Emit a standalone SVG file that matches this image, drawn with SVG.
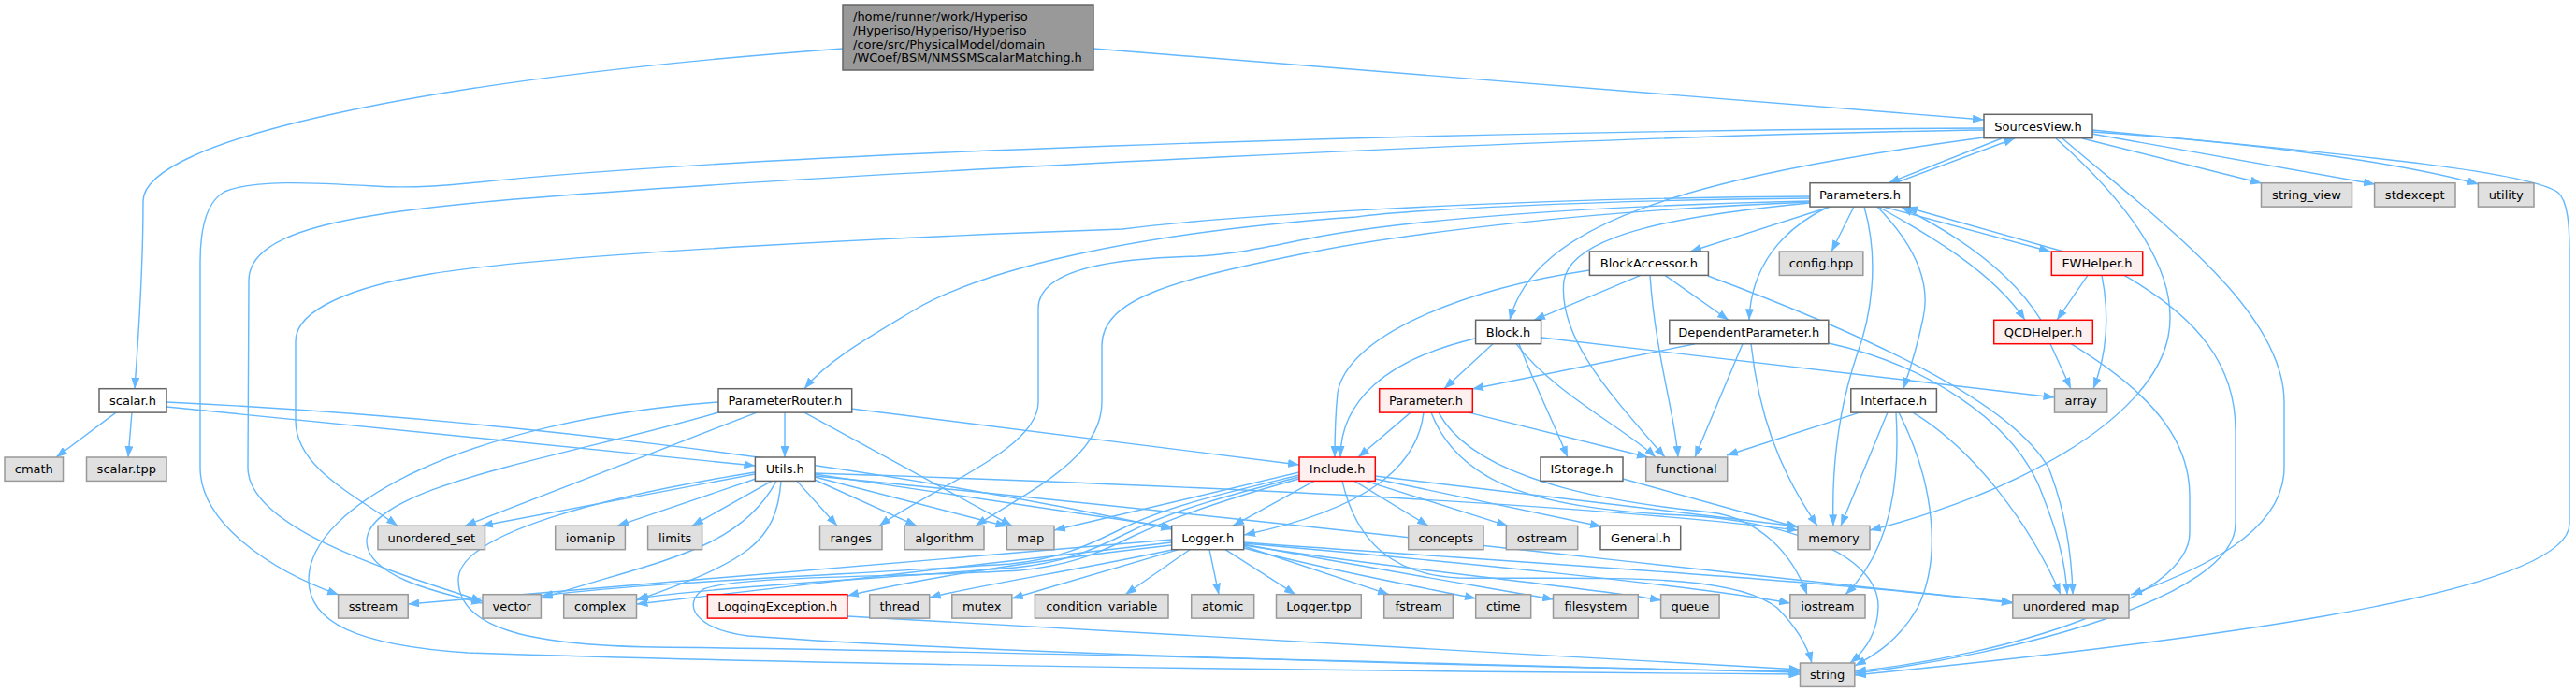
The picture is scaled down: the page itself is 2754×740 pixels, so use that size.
<svg xmlns="http://www.w3.org/2000/svg" width="2754" height="740" viewBox="0 0 2754 740">
<style>
text{font-family:"DejaVu Sans","Liberation Sans",sans-serif;font-size:13px;fill:#000;text-anchor:middle}
.e path{fill:none;stroke:#63b8ff;stroke-width:1.4;marker-end:url(#a)}
.w{fill:#fff;stroke:#666;stroke-width:1.5}
.g{fill:#e0e0e0;stroke:#999;stroke-width:1.5}
.r{fill:#fff0f0;stroke:#f00;stroke-width:1.5}
.m{fill:#999;stroke:#666;stroke-width:1.5}
</style>
<defs>
<marker id="a" markerWidth="12" markerHeight="9" refX="12" refY="4.5" orient="auto" markerUnits="userSpaceOnUse" viewBox="0 0 12 9"><path d="M0,0 L12,4.5 L0,9 z" fill="#63b8ff"/></marker>
</defs>
<rect width="2754" height="740" fill="#fff"/>
<g id="edges" class="e">
<path d="M901,52 C450,85 153,150 153,215 C153,300 147,370 144,415.7"/>
<path d="M1169,52 L2121,128"/>
<path d="M2140,148 L2019,195.7"/>
<path d="M2026,195.7 L2154,148"/>
<path d="M2121,147 C1800,190 1640,240 1614,342.3"/>
<path d="M2121,137 C1500,140 800,165 500,196 C460,200 430,201 400,199 C330,195 270,192 240,205 C222,215 214,240 214,280 L214,500 C214,560 290,610 362,636"/>
<path d="M2121,139 C1700,145 900,185 550,213 C380,228 266,245 266,300 L265,500 C265,565 420,612 516,643"/>
<path d="M2198,148 C2290,230 2330,300 2318,360 C2300,450 2150,530 1999,567"/>
<path d="M2205,148 C2300,230 2442,330 2442,430 L2442,500 C2442,570 2350,610 2278,636"/>
<path d="M2237,139 C2450,160 2700,180 2735,206 C2745,215 2747,240 2747,270 L2747,560 C2747,640 2300,690 1983,722"/>
<path d="M2226,148 L2418,196"/>
<path d="M2236,143 L2539,197"/>
<path d="M2237,141 C2400,152 2560,172 2650,197"/>
<path d="M2013,221 L2192,269"/>
<path d="M2206,269 L2038,221.5"/>
<path d="M2182,342.3 C2150,290 2090,250 2033,221.5"/>
<path d="M2008,221 C2060,250 2130,290 2165,342.3"/>
<path d="M1957,221 L1807,269"/>
<path d="M1982,221 L1958,269"/>
<path d="M1955,221 C1905,245 1872,285 1870,342.3"/>
<path d="M1993,221 C2010,280 2000,340 1985,380 C1965,440 1958,500 1960,562.3"/>
<path d="M2007,221 C2045,260 2065,300 2056,340 C2050,370 2042,395 2035,415.7"/>
<path d="M1935,212 C1700,214 1500,225 1450,232 C1200,250 1050,290 980,330 C930,360 885,385 860,415.7"/>
<path d="M1935,210 C1600,212 1300,232 1200,245 C1000,252 600,270 460,293 C380,306 316,330 316,365 L316,450 C316,500 380,530 425,562.3"/>
<path d="M1935,215 C1700,220 1500,235 1400,255 C1350,265 1320,272 1280,274 C1200,276 1110,285 1110,330 L1110,430 C1110,480 1000,520 940,562.3"/>
<path d="M1935,216 C1700,225 1500,250 1400,270 C1250,300 1178,320 1178,370 L1178,430 C1178,490 1100,525 1043,562.3"/>
<path d="M1935,217 C1800,230 1680,250 1672,300 C1665,360 1720,420 1780,489"/>
<path d="M1754,294.4 L1640,342.3"/>
<path d="M1780,294.4 L1848,342.3"/>
<path d="M1699,289 C1560,310 1440,360 1430,420 C1427,450 1427,470 1427,489"/>
<path d="M1764,294.4 C1770,380 1790,440 1794,489"/>
<path d="M1826,295 C2000,360 2150,430 2190,500 C2210,550 2215,600 2216,635.7"/>
<path d="M1596,367.7 L1544,415.7"/>
<path d="M1577,362 C1480,385 1433,430 1433,489"/>
<path d="M1624,367.7 C1640,410 1660,450 1676,489"/>
<path d="M1621,367.7 C1660,420 1740,460 1770,489"/>
<path d="M1648,361 L2196.5,425"/>
<path d="M1812,367.7 L1574,416"/>
<path d="M1863,367.7 L1812,489"/>
<path d="M1872,367.7 C1880,440 1900,500 1943,562.3"/>
<path d="M1955,367 C2060,390 2150,450 2180,520 C2200,570 2208,600 2210,635.7"/>
<path d="M1988,441.1 L1846,487"/>
<path d="M2018,441.1 L1968,562.3"/>
<path d="M2027,441.1 C2032,520 2020,590 1973,635.7"/>
<path d="M2030,441.1 C2070,520 2075,600 2050,650 C2030,685 2005,700 1983,712"/>
<path d="M2045,441.1 C2110,480 2170,560 2203,635.7"/>
<path d="M2232,294.4 L2199,342.3"/>
<path d="M2247,294.4 C2256,340 2252,380 2238,415.7"/>
<path d="M2271,294.4 C2350,340 2390,390 2390,460 L2390,560 C2390,640 2150,700 1983,720"/>
<path d="M2192,367.7 L2214,415.7"/>
<path d="M2214,367.7 C2300,420 2341,470 2341,530 L2341,570 C2341,640 2150,700 1983,718"/>
<path d="M910,437 L1389,497"/>
<path d="M839,441.1 L839,489"/>
<path d="M809,441.1 L497,562.3"/>
<path d="M768,441 C600,490 390,520 392,580 C394,615 460,632 516,645"/>
<path d="M768,430 C500,450 330,540 330,620 C330,665 380,690 500,698 C900,712 1500,718 1924.5,721"/>
<path d="M860,441.1 L1082,562.3"/>
<path d="M807,507 L515,562.3"/>
<path d="M808,512 L660,562.3"/>
<path d="M825,514.4 L740,562.3"/>
<path d="M852,514.4 L895,562.3"/>
<path d="M871,513 L980,562.3"/>
<path d="M871,510 L1076.4,563"/>
<path d="M871,507 L1254,564"/>
<path d="M830,514.4 C790,590 700,600 578,640"/>
<path d="M835,514.4 C830,580 800,600 680,642"/>
<path d="M807,505 C650,530 490,570 490,620 C490,670 560,690 700,692 C1100,696 1600,712 1924.5,719"/>
<path d="M871,506 C1300,520 1700,540 1922,567"/>
<path d="M871,509 C1400,560 1900,620 2151.8,644"/>
<path d="M124,441.1 L60,489"/>
<path d="M141,441.1 L137,489"/>
<path d="M178,435 L807.4,498"/>
<path d="M178,430 C500,445 900,490 1253,566"/>
<path d="M1405,514.4 L1318,562.3"/>
<path d="M1389,505 L1127,567"/>
<path d="M1389,508 C1320,525 1250,540 1200,565 C1160,585 1130,598 1080,603 C900,615 700,622 579,637"/>
<path d="M1389,510 C1320,528 1255,545 1205,570 C1165,590 1135,602 1085,607 C950,618 760,628 681,640"/>
<path d="M1448,514.4 L1527,562.3"/>
<path d="M1460,514.4 L1612,562.3"/>
<path d="M1470,512 L1712,563"/>
<path d="M1470,509 C1650,530 1800,548 1922,563"/>
<path d="M1435,514.4 C1450,580 1490,615 1560,618 C1700,620 1850,610 1900,650 C1920,670 1932,690 1937,709"/>
<path d="M1508,441.1 L1452,489"/>
<path d="M1522,441.1 C1515,500 1460,545 1330,572"/>
<path d="M1570,441.1 L1762,489"/>
<path d="M1538,441.1 C1580,520 1750,540 1830,548 C1880,555 1915,590 1932,635.7"/>
<path d="M1530,441.1 C1560,520 1650,545 1800,551 C1900,556 2010,590 2008,650 C2007,675 1995,695 1978,709"/>
<path d="M1735,512 L1922,564"/>
<path d="M906,659 L1924.5,716"/>
<path d="M1252.7,577 L436.2,646"/>
<path d="M1252.7,580 L680.5,646"/>
<path d="M1252.7,583 C1100,600 980,620 906,637"/>
<path d="M1254,587.7 C1150,610 1050,625 993.7,639"/>
<path d="M1260,587.7 L1081.8,640"/>
<path d="M1272,587.7 L1203,635.7"/>
<path d="M1293,587.7 L1303,635.7"/>
<path d="M1310,587.7 L1385,635.7"/>
<path d="M1329.7,584 L1485,635.7"/>
<path d="M1329.7,586 C1420,610 1520,628 1578,640"/>
<path d="M1329.7,582 C1450,605 1600,630 1661,641"/>
<path d="M1329.7,583 C1500,610 1700,628 1776,642"/>
<path d="M1329.7,581 C1550,600 1800,625 1914,645"/>
<path d="M1329.7,580 C1600,600 1950,620 2151.8,645"/>
<path d="M1389,512 C1320,531 1260,550 1210,574 C1170,594 1140,605 1090,610 C950,618 790,615 752,630 C730,645 740,672 800,680 C1000,695 1500,712 1924.5,718"/>
</g>
<g id="n_main"><rect class="m" x="901" y="5" width="268" height="70"/><text x="912" y="21.5" style="text-anchor:start">/home/runner/work/Hyperiso</text><text x="912" y="36.5" style="text-anchor:start">/Hyperiso/Hyperiso/Hyperiso</text><text x="912" y="51.5" style="text-anchor:start">/core/src/PhysicalModel/domain</text><text x="912" y="66" style="text-anchor:start">/WCoef/BSM/NMSSMScalarMatching.h</text></g>
<g id="n_sourcesview"><rect class="w" x="2121" y="122.3" width="116" height="25.4"/><text x="2179" y="139.5">SourcesView.h</text></g>
<g id="n_scalar"><rect class="w" x="106" y="415.7" width="72" height="25.4"/><text x="142" y="432.9">scalar.h</text></g>
<g id="n_cmath"><rect class="g" x="5" y="489" width="62.5" height="25.4"/><text x="36.3" y="506.2">cmath</text></g>
<g id="n_scalartpp"><rect class="g" x="92.5" y="489" width="85.5" height="25.4"/><text x="135.3" y="506.2">scalar.tpp</text></g>
<g id="n_parameters"><rect class="w" x="1935" y="195.7" width="107" height="25.4"/><text x="1988.5" y="212.9">Parameters.h</text></g>
<g id="n_string_view"><rect class="g" x="2417.5" y="195.7" width="97" height="25.4"/><text x="2466" y="212.9">string_view</text></g>
<g id="n_stdexcept"><rect class="g" x="2538.6" y="195.7" width="86.4" height="25.4"/><text x="2581.8" y="212.9">stdexcept</text></g>
<g id="n_utility"><rect class="g" x="2649.4" y="195.7" width="59.6" height="25.4"/><text x="2679.2" y="212.9">utility</text></g>
<g id="n_blockaccessor"><rect class="w" x="1699.4" y="269" width="127" height="25.4"/><text x="1762.9" y="286.2">BlockAccessor.h</text></g>
<g id="n_config"><rect class="g" x="1902.3" y="269" width="89.5" height="25.4"/><text x="1947" y="286.2">config.hpp</text></g>
<g id="n_ewhelper"><rect class="r" x="2193.3" y="269" width="97.4" height="25.4"/><text x="2242" y="286.2">EWHelper.h</text></g>
<g id="n_block"><rect class="w" x="1577.6" y="342.3" width="70" height="25.4"/><text x="1612.6" y="359.5">Block.h</text></g>
<g id="n_dependentparameter"><rect class="w" x="1784.8" y="342.3" width="170" height="25.4"/><text x="1869.8" y="359.5">DependentParameter.h</text></g>
<g id="n_qcdhelper"><rect class="r" x="2131.7" y="342.3" width="105.6" height="25.4"/><text x="2184.5" y="359.5">QCDHelper.h</text></g>
<g id="n_parameterrouter"><rect class="w" x="768" y="415.7" width="142.7" height="25.4"/><text x="839.4" y="432.9">ParameterRouter.h</text></g>
<g id="n_parameter"><rect class="r" x="1474.7" y="415.7" width="99.6" height="25.4"/><text x="1524.5" y="432.9">Parameter.h</text></g>
<g id="n_interface"><rect class="w" x="1978.8" y="415.7" width="91.6" height="25.4"/><text x="2024.6" y="432.9">Interface.h</text></g>
<g id="n_array"><rect class="g" x="2196.5" y="415.7" width="56.2" height="25.4"/><text x="2224.6" y="432.9">array</text></g>
<g id="n_utils"><rect class="w" x="807.4" y="489" width="63.7" height="25.4"/><text x="839.3" y="506.2">Utils.h</text></g>
<g id="n_include"><rect class="r" x="1389" y="489" width="81.3" height="25.4"/><text x="1429.7" y="506.2">Include.h</text></g>
<g id="n_istorage"><rect class="w" x="1647" y="489" width="88" height="25.4"/><text x="1691" y="506.2">IStorage.h</text></g>
<g id="n_functional"><rect class="g" x="1759.7" y="489" width="87" height="25.4"/><text x="1803.2" y="506.2">functional</text></g>
<g id="n_unordered_set"><rect class="g" x="404" y="562.3" width="114.5" height="25.4"/><text x="461.3" y="579.5">unordered_set</text></g>
<g id="n_iomanip"><rect class="g" x="593.7" y="562.3" width="74.7" height="25.4"/><text x="631" y="579.5">iomanip</text></g>
<g id="n_limits"><rect class="g" x="692.6" y="562.3" width="58" height="25.4"/><text x="721.6" y="579.5">limits</text></g>
<g id="n_ranges"><rect class="g" x="876.5" y="562.3" width="66.5" height="25.4"/><text x="909.8" y="579.5">ranges</text></g>
<g id="n_algorithm"><rect class="g" x="967" y="562.3" width="85" height="25.4"/><text x="1009.5" y="579.5">algorithm</text></g>
<g id="n_map"><rect class="g" x="1076.4" y="562.3" width="50.6" height="25.4"/><text x="1101.7" y="579.5">map</text></g>
<g id="n_logger"><rect class="w" x="1252.7" y="562.3" width="77" height="25.4"/><text x="1291.2" y="579.5">Logger.h</text></g>
<g id="n_concepts"><rect class="g" x="1505.7" y="562.3" width="80.3" height="25.4"/><text x="1545.9" y="579.5">concepts</text></g>
<g id="n_ostream"><rect class="g" x="1610.3" y="562.3" width="76.4" height="25.4"/><text x="1648.5" y="579.5">ostream</text></g>
<g id="n_general"><rect class="w" x="1711" y="562.3" width="85.7" height="25.4"/><text x="1753.9" y="579.5">General.h</text></g>
<g id="n_memory"><rect class="g" x="1922" y="562.3" width="77" height="25.4"/><text x="1960.5" y="579.5">memory</text></g>
<g id="n_sstream"><rect class="g" x="361.6" y="635.7" width="74.6" height="25.4"/><text x="398.9" y="652.9">sstream</text></g>
<g id="n_vector"><rect class="g" x="516" y="635.7" width="62.4" height="25.4"/><text x="547.2" y="652.9">vector</text></g>
<g id="n_complex"><rect class="g" x="602.7" y="635.7" width="77.8" height="25.4"/><text x="641.6" y="652.9">complex</text></g>
<g id="n_loggingexception"><rect class="r" x="756.4" y="635.7" width="149.5" height="25.4"/><text x="831.2" y="652.9">LoggingException.h</text></g>
<g id="n_thread"><rect class="g" x="929.7" y="635.7" width="64" height="25.4"/><text x="961.7" y="652.9">thread</text></g>
<g id="n_mutex"><rect class="g" x="1017.8" y="635.7" width="64" height="25.4"/><text x="1049.8" y="652.9">mutex</text></g>
<g id="n_condition_variable"><rect class="g" x="1106.4" y="635.7" width="142.6" height="25.4"/><text x="1177.7" y="652.9">condition_variable</text></g>
<g id="n_atomic"><rect class="g" x="1273.7" y="635.7" width="67" height="25.4"/><text x="1307.2" y="652.9">atomic</text></g>
<g id="n_loggertpp"><rect class="g" x="1364.5" y="635.7" width="90.8" height="25.4"/><text x="1409.9" y="652.9">Logger.tpp</text></g>
<g id="n_fstream"><rect class="g" x="1479.7" y="635.7" width="73.6" height="25.4"/><text x="1516.5" y="652.9">fstream</text></g>
<g id="n_ctime"><rect class="g" x="1577.7" y="635.7" width="59" height="25.4"/><text x="1607.2" y="652.9">ctime</text></g>
<g id="n_filesystem"><rect class="g" x="1660.5" y="635.7" width="90.8" height="25.4"/><text x="1705.9" y="652.9">filesystem</text></g>
<g id="n_queue"><rect class="g" x="1775.6" y="635.7" width="62.5" height="25.4"/><text x="1806.9" y="652.9">queue</text></g>
<g id="n_iostream"><rect class="g" x="1913.8" y="635.7" width="80.2" height="25.4"/><text x="1953.9" y="652.9">iostream</text></g>
<g id="n_unordered_map"><rect class="g" x="2151.8" y="635.7" width="124.2" height="25.4"/><text x="2213.9" y="652.9">unordered_map</text></g>
<g id="n_string"><rect class="g" x="1924.5" y="709" width="58.3" height="25.4"/><text x="1953.7" y="726.2">string</text></g>
</svg>
